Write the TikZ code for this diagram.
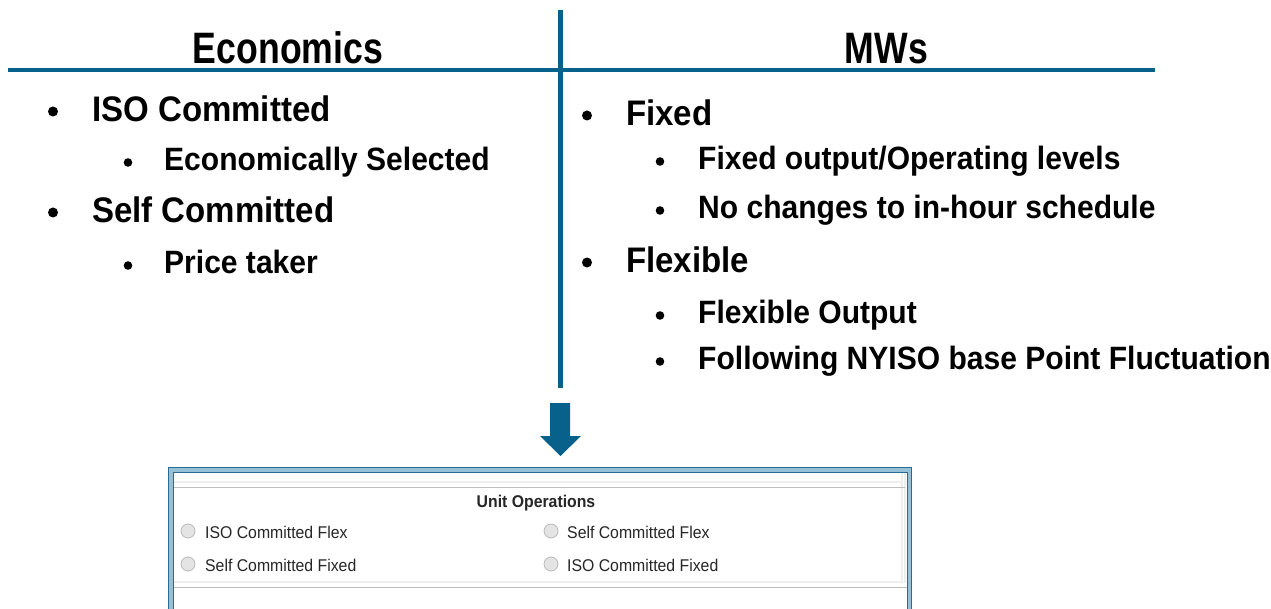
\documentclass[tikz,border=0pt]{standalone}
\usepackage{fontspec}
\setmainfont{Liberation Sans}
\newfontfamily\headfont{Liberation Sans Bold}[FakeStretch=0.81]
\newfontfamily\itemfont{Liberation Sans Bold}[FakeStretch=0.93]
\newfontfamily\uifont{Liberation Sans}[FakeStretch=0.93]
\definecolor{rulecol}{RGB}{8,97,138}
\definecolor{framedark}{RGB}{38,108,148}
\definecolor{framelight}{RGB}{150,192,214}
\definecolor{paneledge}{RGB}{238,238,238}
\definecolor{panelline}{RGB}{190,190,190}
\definecolor{radiofill}{RGB}{228,228,228}
\definecolor{radioedge}{RGB}{185,185,185}
\tikzset{
  heading/.style={inner sep=0pt, anchor=base, font=\headfont\fontsize{44}{48}\selectfont},
  itemA/.style={inner sep=0pt, anchor=base west, font=\itemfont\fontsize{35.5}{40}\selectfont},
  itemB/.style={inner sep=0pt, anchor=base west, font=\itemfont\fontsize{32.3}{36}\selectfont},
  bulA/.style={circle, fill=black, inner sep=0pt, minimum size=10pt},
  bulB/.style={circle, fill=black, inner sep=0pt, minimum size=8.6pt},
  divider/.style={draw=rulecol, line width=5pt},
  uitext/.style={inner sep=0pt, anchor=base west, font=\uifont\fontsize{17}{19}\selectfont, text=black!85},
  uititle/.style={inner sep=0pt, anchor=base, font=\uifont\bfseries\fontsize{17}{19}\selectfont, text=black!85},
  radio/.style={circle, draw=radioedge, fill=radiofill, line width=0.8pt, inner sep=0pt, minimum size=14pt},
}
\begin{document}
\begin{tikzpicture}[x=1pt,y=-1pt]
\useasboundingbox (0,0) rectangle (1271,609);

% dividing rules
\coordinate (vtop) at (560,10);
\coordinate (vbot) at (560,388);
\coordinate (hleft) at (8,70);
\coordinate (hright) at (1155,70);
\draw[divider] (vtop) -- (vbot);
\draw[divider, line width=4pt] (hleft) -- (hright);

% column headings
\node[heading] (econ) at (288,64) {Economics};
\node[heading] (mws) at (886.5,64) {MWs};

% left column
\node[bulA] (bl1) at (53,111.5) {};
\node[itemA] (l1) at (92,122) {ISO Committed};
\node[bulB] (bl2) at (128,162.5) {};
\node[itemB] (l2) at (164,171) {Economically Selected};
\node[bulA] (bl3) at (53,212.5) {};
\node[itemA] (l3) at (92,223) {Self Committed};
\node[bulB] (bl4) at (128,265.5) {};
\node[itemB] (l4) at (164,274) {Price taker};

% right column
\node[bulA] (br1) at (587,115.5) {};
\node[itemA] (r1) at (626,126) {Fixed};
\node[bulB] (br2) at (660,161.5) {};
\node[itemB] (r2) at (698,170) {Fixed output/Operating levels};
\node[bulB] (br3) at (660,210.5) {};
\node[itemB] (r3) at (698,219) {No changes to in-hour schedule};
\node[bulA] (br4) at (587,262.5) {};
\node[itemA] (r4) at (626,273) {Flexible};
\node[bulB] (br5) at (660,315.5) {};
\node[itemB] (r5) at (698,324) {Flexible Output};
\node[bulB] (br6) at (660,361.5) {};
\node[itemB] (r6) at (698,370) {Following NYISO base Point Fluctuation};

% block arrow pointing down to the form
\fill[rulecol] (550,403) -- (570,403) -- (570,436) -- (581,436) -- (560.5,456)
  -- (540,436) -- (550,436) -- cycle;

% form window: double blue frame
\draw[framelight, line width=5pt] (171,609) -- (171,470) -- (909.5,470) -- (909.5,609);
\draw[framedark, line width=1.3pt] (168.7,609) -- (168.7,467.7) -- (911.8,467.7) -- (911.8,609);
\draw[framedark, line width=1.3pt] (173.2,609) -- (173.2,472.2) -- (907.3,472.2) -- (907.3,609);
\fill[white] (173.9,472.9) rectangle (906.6,609);

% group panel edges
\draw[paneledge, line width=2pt] (174,482) -- (902,482);
\draw[paneledge, line width=2pt] (902,473) -- (902,583);
\draw[paneledge, line width=1.2pt] (905,473) -- (905,583);
\draw[panelline, line width=1.6pt] (174,487.5) -- (905,487.5);
\draw[paneledge, line width=2pt] (174,582) -- (902,582);
\draw[panelline, line width=1.6pt] (174,587.5) -- (906.5,587.5);

% group contents
\node[uititle] (ops) at (536,507) {Unit Operations};
\node[radio] (o1) at (188,531) {};
\node[uitext] (t1) at (205,538) {ISO Committed Flex};
\node[radio] (o2) at (188,564) {};
\node[uitext] (t2) at (205,571) {Self Committed Fixed};
\node[radio] (o3) at (551,531) {};
\node[uitext] (t3) at (567,538) {Self Committed Flex};
\node[radio] (o4) at (551,564) {};
\node[uitext] (t4) at (567,571) {ISO Committed Fixed};
\end{tikzpicture}
\end{document}
